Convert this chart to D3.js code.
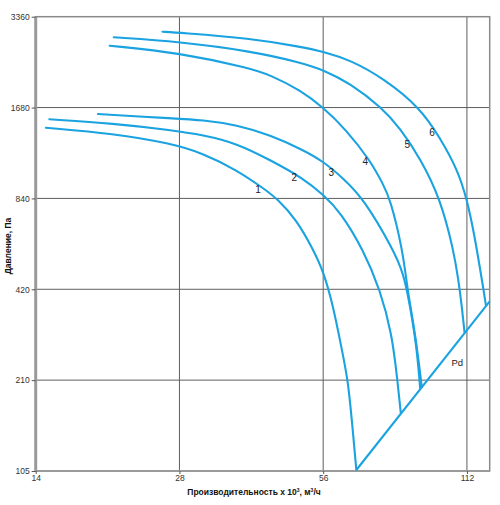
<!DOCTYPE html>
<html>
<head>
<meta charset="utf-8">
<script src="https://cdn.jsdelivr.net/npm/d3@7/dist/d3.min.js"></script>
<style>
  html, body { margin: 0; padding: 0; background: #fff; }
  svg { display: block; font-family: "Liberation Sans", Arial, sans-serif; }
</style>
</head>
<body>
<svg id="chart" width="500" height="505"></svg>
<script>
// ---- data ----
const xTicks = [14, 28, 56, 112];
const yTicks = [105, 210, 420, 840, 1680, 3360];
const xDomain = [14, 125];
const yDomain = [105, 3360];

const curveNames = ["1", "2", "3", "4", "5", "6"];

// Flow (x10^3 m3/h) and pressure (Pa) for each fan curve
const curve1Q = [14.7, 20.4, 26.8, 31.4, 36.9, 42.0, 44.8, 49.3, 53.4, 56.1, 58.8, 61.3, 63.1, 64.3, 65.7];
const curve1P = [1440, 1378, 1279, 1185, 1043, 907, 840, 712, 567, 480, 368, 264, 210, 155, 106];

const curve2Q = [14.95, 20.4, 26.8, 31.4, 36.9, 43.35, 50.9, 56.1, 60.8, 68.0, 73.7, 78.0, 80.1, 81.4];
const curve2P = [1536, 1488, 1416, 1363, 1279, 1126, 979, 862, 759, 567, 418, 300, 210, 164];

const curve3Q = [18.9, 26.8, 31.4, 36.9, 43.35, 50.9, 56.1, 61.7, 68.0, 78.6, 82.5, 85.2, 87.9, 89.4];
const curve3P = [1599, 1548, 1528, 1471, 1363, 1215, 1112, 979, 840, 567, 474, 368, 271, 197];

const curve4Q = [20.0, 28.0, 39.4, 43.35, 50.1, 56.1, 62.3, 70.2, 74.9, 77.3, 82.2, 84.0, 87.3, 90.1];
const curve4P = [2693, 2553, 2267, 2154, 1921, 1678, 1427, 1126, 930, 840, 567, 420, 300, 199];

const curve5Q = [20.4, 28.0, 39.4, 50.1, 56.1, 63.8, 74.3, 81.2, 89.4, 98.5, 105.0, 107.5, 109.3, 110.7];
const curve5P = [2871, 2777, 2586, 2373, 2238, 2021, 1678, 1434, 1141, 840, 567, 451, 368, 303];

const curve6Q = [25.8, 28.0, 39.4, 50.1, 56.1, 63.8, 74.9, 89.4, 98.5, 106.7, 112.0, 116.6, 119.1, 121.3, 122.8];
const curve6P = [2997, 2974, 2850, 2673, 2573, 2415, 2100, 1678, 1329, 1057, 840, 612, 499, 420, 370];

// dynamic pressure line Pd
const pdQ = [65.7, 125];
const pdP = [105.8, 383];

// label anchors (flow, pressure)
const labelQ = [40.9, 48.7, 58.2, 68.6, 84.0, 94.7];
const labelP = [896, 982, 1020, 1117, 1263, 1384];
const pdLabel = { text: "Pd", q: 106.9, p: 241 };

const xTitle = ["Производительность x 10", "3", ", м", "3", "/ч"];
const yTitle = "Давление, Па";

// ---- layout ----
const W = 500, H = 505;
const margin = { left: 35.7, right: 10.3, top: 16.7, bottom: 34 };
const blue = "#1aa3e0";
const font = "'Liberation Sans', Arial, sans-serif";

const svg = d3.select("#chart");
const x = d3.scaleLog().base(2).domain(xDomain).range([margin.left, W - margin.right]);
const y = d3.scaleLog().base(2).domain(yDomain).range([H - margin.bottom, margin.top]);

// grid
const g = svg.append("g");
g.selectAll("line.vg").data(xTicks.filter(d => d !== xDomain[0]))
  .join("line").attr("class", "vg")
  .attr("x1", d => x(d)).attr("x2", d => x(d))
  .attr("y1", y(yDomain[1])).attr("y2", y(yDomain[0]))
  .attr("stroke", "#5e5e5e").attr("stroke-width", 1);
g.selectAll("line.hg").data(yTicks.filter(d => d !== yDomain[0] && d !== yDomain[1]))
  .join("line").attr("class", "hg")
  .attr("y1", d => y(d)).attr("y2", d => y(d))
  .attr("x1", x(xDomain[0])).attr("x2", x(xDomain[1]))
  .attr("stroke", "#5e5e5e").attr("stroke-width", 1);

// frame
svg.append("rect")
  .attr("x", x(xDomain[0])).attr("y", y(yDomain[1]))
  .attr("width", x(xDomain[1]) - x(xDomain[0]))
  .attr("height", y(yDomain[0]) - y(yDomain[1]))
  .attr("fill", "none").attr("stroke", "#8a8a8a").attr("stroke-width", 1.5);
svg.append("line")
  .attr("x1", x(xDomain[0])).attr("x2", x(xDomain[0]))
  .attr("y1", y(yDomain[1])).attr("y2", y(yDomain[0]) + 1)
  .attr("stroke", "#9a9a9a").attr("stroke-width", 3);
svg.append("line")
  .attr("x1", x(xDomain[0])).attr("x2", x(xDomain[1]))
  .attr("y1", y(yDomain[0])).attr("y2", y(yDomain[0]))
  .attr("stroke", "#9a9a9a").attr("stroke-width", 2.2);

// axes
const xAxis = d3.axisBottom(x).tickValues(xTicks).tickFormat(d3.format("d")).tickSize(3).tickPadding(1);
const yAxis = d3.axisLeft(y).tickValues(yTicks).tickFormat(d3.format("d")).tickSize(4).tickPadding(2);
const gx = svg.append("g").attr("transform", `translate(0,${y(yDomain[0])})`).call(xAxis);
const gy = svg.append("g").attr("transform", `translate(${x(xDomain[0])},0)`).call(yAxis);
[gx, gy].forEach(a => {
  a.select(".domain").remove();
  a.selectAll(".tick line").attr("stroke", "#555");
  a.selectAll(".tick text").attr("fill", "#333").style("font-size", "8.5px")
    .style("font-family", font);
});

// curves
const curves = [
  [curve1Q, curve1P], [curve2Q, curve2P], [curve3Q, curve3P],
  [curve4Q, curve4P], [curve5Q, curve5P], [curve6Q, curve6P]
];
const line = d3.line().x(d => x(d[0])).y(d => y(d[1])).curve(d3.curveBasis);
svg.append("g").selectAll("path").data(curves).join("path")
  .attr("d", c => line(c[0].map((q, i) => [q, c[1][i]])))
  .attr("fill", "none").attr("stroke", blue).attr("stroke-width", 2.1)
  .attr("stroke-linecap", "round");

svg.append("path")
  .attr("d", d3.line().x(d => x(d[0])).y(d => y(d[1]))(pdQ.map((q, i) => [q, pdP[i]])))
  .attr("fill", "none").attr("stroke", blue).attr("stroke-width", 2.1);

// labels
svg.append("g").selectAll("text").data(curveNames).join("text")
  .attr("x", (d, i) => x(labelQ[i])).attr("y", (d, i) => y(labelP[i]))
  .attr("text-anchor", "middle").attr("dominant-baseline", "central")
  .style("font-size", "10px").attr("fill", "#222").text(d => d);
svg.append("text")
  .attr("x", x(pdLabel.q)).attr("y", y(pdLabel.p))
  .attr("text-anchor", "middle").attr("dominant-baseline", "central")
  .style("font-size", "9.5px").attr("fill", "#222").text(pdLabel.text);

// titles
const xt = svg.append("text")
  .attr("x", 254).attr("y", 495)
  .attr("text-anchor", "middle")
  .style("font-size", "8.5px").style("font-weight", "bold").attr("fill", "#111");
xTitle.forEach((t, i) => {
  const ts = xt.append("tspan").text(t);
  if (t === "3") ts.attr("dy", "-3.5").style("font-size", "5px");
  else if (i > 0) ts.attr("dy", "3.5");
});

svg.append("text")
  .attr("transform", `translate(11,246) rotate(-90)`)
  .attr("text-anchor", "middle")
  .style("font-size", "8.5px").style("font-weight", "bold").attr("fill", "#111")
  .text(yTitle);
</script>
</body>
</html>
